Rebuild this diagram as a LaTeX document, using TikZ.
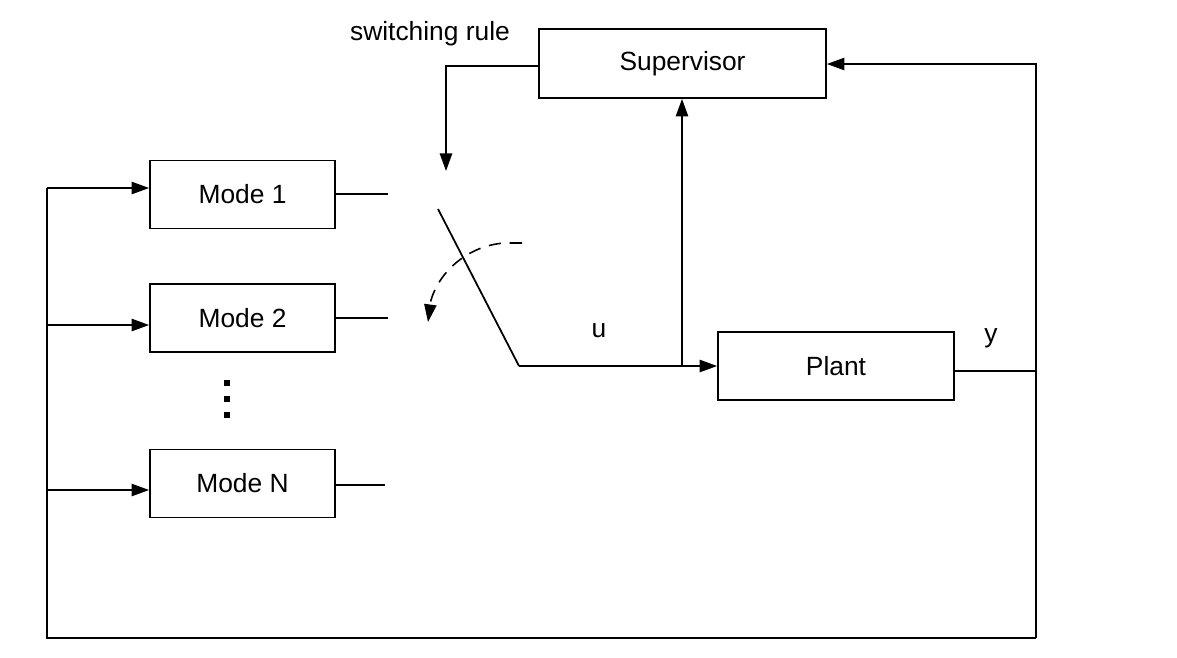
\documentclass[tikz,border=0pt]{standalone}
\usepackage{fontspec}
\setmainfont{Liberation Sans}
\usetikzlibrary{arrows.meta}
\begin{document}
\begin{tikzpicture}[x=0.02cm,y=-0.02cm,
  line width=1pt,
  box/.style={draw,rectangle,inner sep=0pt,font=\fontsize{15}{18}\selectfont},
  lbl/.style={font=\fontsize{15}{18}\selectfont,inner sep=0pt},
  arr/.style={-{Triangle[length=10pt,width=7pt]}},
  dot/.style={fill,rectangle,minimum size=3.5pt,inner sep=0pt}]
\useasboundingbox[fill=white] (0,0) rectangle (1177,657);
% boxes
\node[box,minimum width=5.74cm,minimum height=1.38cm] (sup) at (682.5,63.5) {Supervisor};
\node[box,minimum width=3.7cm,minimum height=1.36cm] (m1) at (242.5,194.5) {Mode 1};
\node[box,minimum width=3.7cm,minimum height=1.36cm] (m2) at (242.5,318) {Mode 2};
\node[box,minimum width=3.7cm,minimum height=1.36cm] (mn) at (242.5,483.5) {Mode N};
\node[box,minimum width=4.72cm,minimum height=1.36cm] (plant) at (836,366) {Plant};
% labels
\node[lbl] (sw) at (430,34) {switching rule};
\node[lbl] (u) at (599,331) {u};
\node[lbl] (y) at (991,338) {y};
% dots
\node[dot] (d1) at (227,383) {};
\node[dot] (d2) at (227,399) {};
\node[dot] (d3) at (227,415) {};
% coordinates
\coordinate (c1) at (388,194);
\coordinate (c2) at (388,318);
\coordinate (cn) at (385,485);
\coordinate (swtop) at (446,171);
\coordinate (sa) at (438,209);
\coordinate (sb) at (519,366);
\coordinate (bus1) at (47,188);
\coordinate (bus2) at (47,325);
\coordinate (busn) at (47,490);
\coordinate (bl) at (47,638);
\coordinate (br) at (1036,638);
\coordinate (tr) at (1036,64);
\coordinate (pr) at (1036,371);
\coordinate (uj) at (682,366);
\coordinate (da) at (522,243);
\coordinate (db) at (428,322);
% mode outputs
\draw (m1.east |- c1) -- (c1);
\draw (m2.east |- c2) -- (c2);
\draw (mn.east |- cn) -- (cn);
% switch
\draw (sa) -- (sb);
\draw[arr] (sb) -- (plant.west |- sb);
\draw[arr] (uj) -- (sup.south -| uj);
% supervisor to switch
\draw[arr] (sup.west |- 0,66) -- (446,66) -- (swtop);
% feedback
\draw (plant.east |- pr) -- (pr);
\draw[arr] (br) -- (tr) -- (sup.east |- tr);
\draw (br) -- (bl) -- (bus1);
\draw[arr] (bus1) -- (m1.west |- bus1);
\draw[arr] (bus2) -- (m2.west |- bus2);
\draw[arr] (busn) -- (mn.west |- busn);
% dashed curved arrow
\draw[arr,dashed,dash pattern=on 7pt off 5pt,line width=0.9pt] (da) -- (505,243) .. controls (470,245) and (440,270) .. (431,300) -- (db);
\end{tikzpicture}
\end{document}
